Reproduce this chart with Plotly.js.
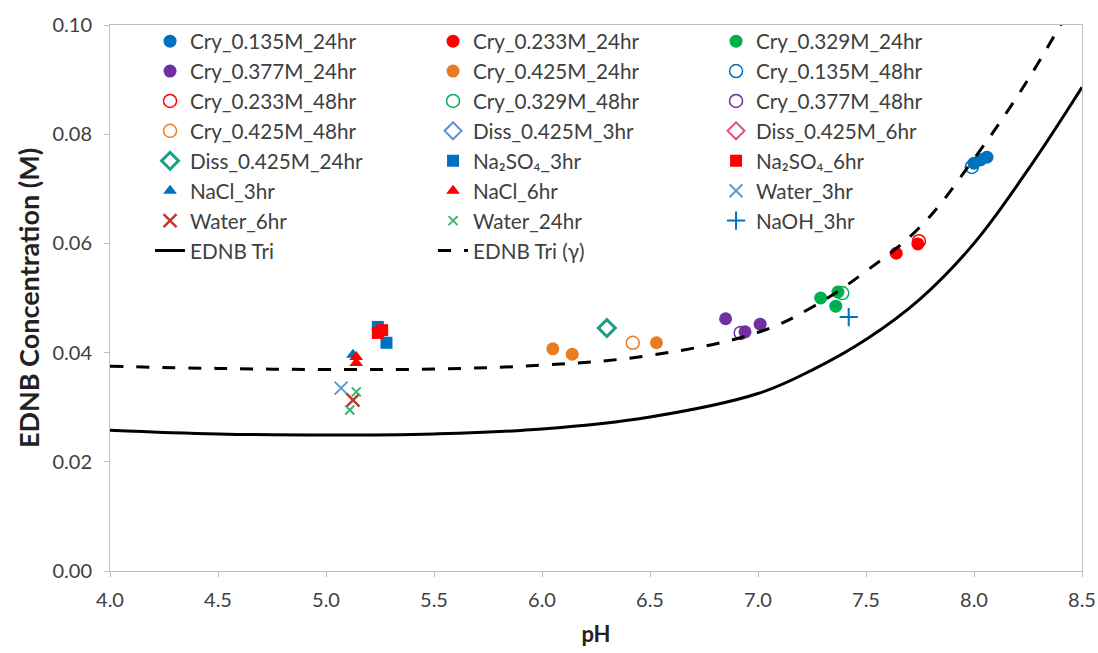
<!DOCTYPE html>
<html>
<head>
<meta charset="utf-8">
<script src="https://cdn.plot.ly/plotly-3.0.1.min.js"></script>
<style>html,body{margin:0;padding:0;background:#fff;}#chart{width:1098px;height:653px;}</style>
</head>
<body>
<div id="chart"></div>
<script>
// ---- Data (pH, EDNB concentration in M) ----
const cry135_24_pH = [8.00, 8.03, 8.06];
const cry135_24_C  = [0.0747, 0.0753, 0.0758];
const cry233_24_pH = [7.64, 7.74];
const cry233_24_C  = [0.0582, 0.0599];
const cry329_24_pH = [7.29, 7.36, 7.37];
const cry329_24_C  = [0.0500, 0.0485, 0.0511];
const cry377_24_pH = [6.85, 6.94, 7.01];
const cry377_24_C  = [0.0462, 0.0438, 0.0452];
const cry425_24_pH = [6.05, 6.14, 6.53];
const cry425_24_C  = [0.0407, 0.0397, 0.0418];
const cry135_48_pH = [7.99];
const cry135_48_C  = [0.0740];
const cry233_48_pH = [7.745];
const cry233_48_C  = [0.0604];
const cry329_48_pH = [7.39];
const cry329_48_C  = [0.0509];
const cry377_48_pH = [6.92];
const cry377_48_C  = [0.0436];
const cry425_48_pH = [6.42];
const cry425_48_C  = [0.0418];
const diss3_pH  = [6.30];
const diss3_C   = [0.0445];
const diss6_pH  = [6.30];
const diss6_C   = [0.0445];
const diss24_pH = [6.30];
const diss24_C  = [0.0445];
const naso3_pH = [5.24, 5.28];
const naso3_C  = [0.0447, 0.0418];
const naso6_pH = [5.24, 5.26];
const naso6_C  = [0.0436, 0.0441];
const nacl3_pH = [5.125];
const nacl3_C  = [0.0396];
const nacl6_pH = [5.14, 5.14];
const nacl6_C  = [0.0392, 0.0381];
const water3_pH  = [5.07];
const water3_C   = [0.0335];
const water6_pH  = [5.125];
const water6_C   = [0.0313];
const water24_pH = [5.11, 5.14];
const water24_C  = [0.0295, 0.0328];
const naoh3_pH = [7.42];
const naoh3_C  = [0.0465];

const triSolid_pH = [4.0, 4.5, 5.0, 5.5, 6.0, 6.5, 7.0, 7.25, 7.5, 7.75, 8.0, 8.25, 8.5];
const triSolid_C  = [0.0258, 0.0251, 0.0249, 0.0251, 0.0260, 0.0282, 0.0325, 0.0368, 0.0424, 0.0498, 0.0600, 0.0735, 0.0886];
const triGamma_pH = [4.0, 4.5, 5.0, 5.5, 6.0, 6.5, 7.0, 7.25, 7.5, 7.75, 8.0, 8.25, 8.5];
const triGamma_C  = [0.0375, 0.0371, 0.0369, 0.0370, 0.0377, 0.0395, 0.0437, 0.0483, 0.0549, 0.0630, 0.0755, 0.0900, 0.1070];

const xTickVals = [4.0, 4.5, 5.0, 5.5, 6.0, 6.5, 7.0, 7.5, 8.0, 8.5];
const yTickVals = [0.00, 0.02, 0.04, 0.06, 0.08, 0.10];

// ---- styles ----
const BLUE = '#0070C0', RED = '#FF0000', GREEN = '#00B050', PURPLE = '#7030A0', ORANGE = '#E97C22';

function pts(name, x, y, symbol, color, size, lw) {
  return {
    type: 'scatter', mode: 'markers', name: name, x: x, y: y,
    marker: {symbol: symbol, color: color, size: size, line: {color: color, width: lw}}
  };
}

const traces = [
  pts('Cry_0.135M_24hr', cry135_24_pH, cry135_24_C, 'circle', BLUE, 13, 0),
  pts('Cry_0.233M_24hr', cry233_24_pH, cry233_24_C, 'circle', RED, 13, 0),
  pts('Cry_0.329M_24hr', cry329_24_pH, cry329_24_C, 'circle', GREEN, 13, 0),
  pts('Cry_0.377M_24hr', cry377_24_pH, cry377_24_C, 'circle', PURPLE, 13, 0),
  pts('Cry_0.425M_24hr', cry425_24_pH, cry425_24_C, 'circle', ORANGE, 13, 0),
  pts('Cry_0.135M_48hr', cry135_48_pH, cry135_48_C, 'circle-open', BLUE, 13, 1.5),
  pts('Cry_0.233M_48hr', cry233_48_pH, cry233_48_C, 'circle-open', RED, 13, 1.5),
  pts('Cry_0.329M_48hr', cry329_48_pH, cry329_48_C, 'circle-open', GREEN, 13, 1.5),
  pts('Cry_0.377M_48hr', cry377_48_pH, cry377_48_C, 'circle-open', PURPLE, 13, 1.5),
  pts('Cry_0.425M_48hr', cry425_48_pH, cry425_48_C, 'circle-open', ORANGE, 13, 1.5),
  pts('Diss_0.425M_3hr', diss3_pH, diss3_C, 'diamond-open', '#5B8FD0', 13, 2),
  pts('Diss_0.425M_6hr', diss6_pH, diss6_C, 'diamond-open', '#E0507A', 13, 2),
  pts('Diss_0.425M_24hr', diss24_pH, diss24_C, 'diamond-open', '#1E9E82', 13, 3),
  pts('Na₂SO₄_3hr', naso3_pH, naso3_C, 'square', BLUE, 12, 0),
  pts('Na₂SO₄_6hr', naso6_pH, naso6_C, 'square', RED, 12, 0),
  pts('NaCl_3hr', nacl3_pH, nacl3_C, 'triangle-up', BLUE, 12, 0),
  pts('NaCl_6hr', nacl6_pH, nacl6_C, 'triangle-up', RED, 12, 0),
  pts('Water_3hr', water3_pH, water3_C, 'x-thin-open', '#5B9BD5', 13, 2),
  pts('Water_6hr', water6_pH, water6_C, 'x-thin-open', '#C0392B', 13, 2.5),
  pts('Water_24hr', water24_pH, water24_C, 'x-thin-open', '#3CB371', 9, 2),
  pts('NaOH_3hr', naoh3_pH, naoh3_C, 'cross-thin-open', BLUE, 13, 2),
  {type: 'scatter', mode: 'lines', name: 'EDNB Tri', x: triSolid_pH, y: triSolid_C,
   line: {color: '#000000', width: 3, shape: 'spline', smoothing: 1.1}},
  {type: 'scatter', mode: 'lines', name: 'EDNB Tri (γ)', x: triGamma_pH, y: triGamma_C,
   line: {color: '#000000', width: 3, dash: '13px,13px', shape: 'spline', smoothing: 1.1}}
];

const layout = {
  width: 1098, height: 653,
  margin: {l: 110, r: 16, t: 25, b: 82},
  paper_bgcolor: '#ffffff', plot_bgcolor: '#ffffff',
  font: {family: 'Lato, sans-serif', color: '#404040', size: 20},
  showlegend: true,
  legend: {
    orientation: 'h', x: 0.0412, xanchor: 'left', y: 1.007, yanchor: 'top',
    entrywidth: 238, entrywidthmode: 'pixels',
    bgcolor: 'rgba(0,0,0,0)', borderwidth: 0,
    font: {family: 'Lato, sans-serif', size: 20.7, color: '#404040'},
    traceorder: 'normal'
  },
  xaxis: {
    range: [4.0, 8.5], tickvals: xTickVals, tickformat: '.1f',
    showgrid: false, zeroline: false,
    showline: true, linecolor: '#BFBFBF', linewidth: 1, mirror: true,
    ticks: 'outside', ticklen: 5, tickcolor: '#BFBFBF',
    ticklabelstandoff: 6,
    tickfont: {family: 'Lato, sans-serif', size: 20, color: '#404040'},
    title: {text: '<b>pH</b>', font: {family: 'Lato, sans-serif', size: 22, color: '#222'}, standoff: 16}
  },
  yaxis: {
    range: [0, 0.10], tickvals: yTickVals, tickformat: '.2f',
    showgrid: false, zeroline: false,
    showline: true, linecolor: '#BFBFBF', linewidth: 1, mirror: true,
    ticks: 'outside', ticklen: 5, tickcolor: '#BFBFBF',
    ticklabelstandoff: 8,
    tickfont: {family: 'Lato, sans-serif', size: 20, color: '#404040'},
    title: {text: '<b>EDNB Concentration (M)</b>', font: {family: 'Lato, sans-serif', size: 27, color: '#222'}, standoff: 5}
  }
};

Plotly.newPlot('chart', traces, layout, {displayModeBar: false, staticPlot: true});
</script>
</body>
</html>
